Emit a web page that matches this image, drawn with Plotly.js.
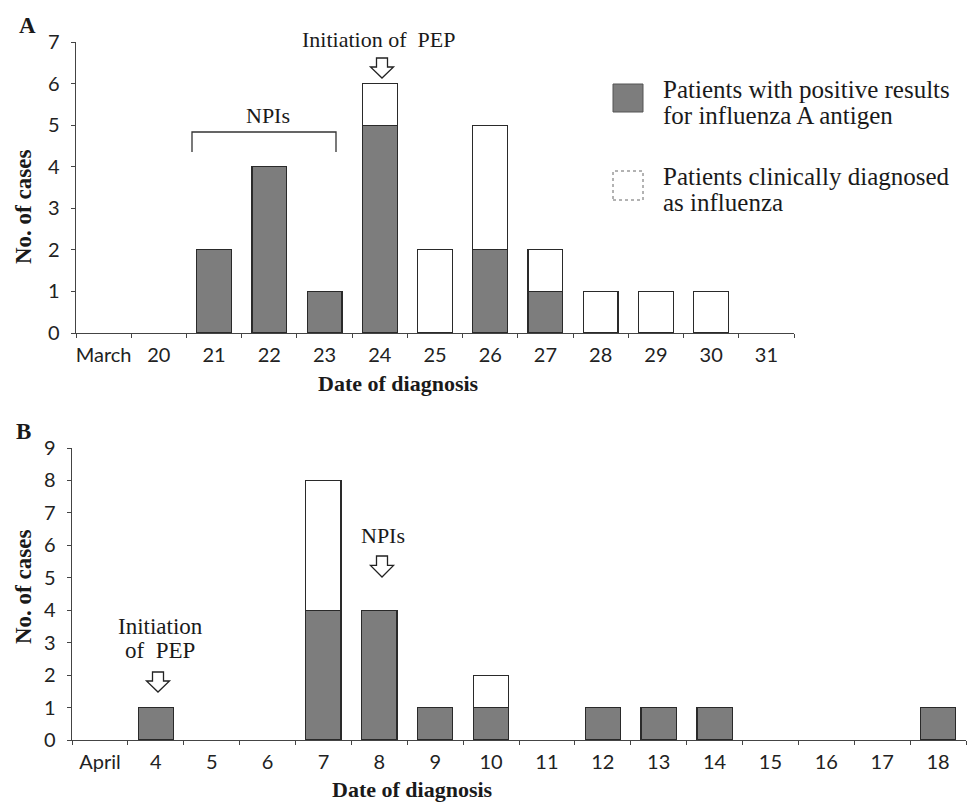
<!DOCTYPE html>
<html>
<head>
<meta charset="utf-8">
<script src="https://cdn.plot.ly/plotly-3.0.1.min.js"></script>
<style>html,body{margin:0;padding:0;background:#fff;}#chart{width:967px;height:802px;}</style>
</head>
<body>
<div id="chart"></div>
<script>
// Panel A data (March)
const datesA = ["March", "20", "21", "22", "23", "24", "25", "26", "27", "28", "29", "30", "31"];
const positiveA = [0, 0, 2, 4, 1, 5, 0, 2, 1, 0, 0, 0, 0];
const clinicalA = [0, 0, 0, 0, 0, 1, 2, 3, 1, 1, 1, 1, 0];
const yTicksA = [0, 1, 2, 3, 4, 5, 6, 7];

// Panel B data (April)
const datesB = ["April", "4", "5", "6", "7", "8", "9", "10", "11", "12", "13", "14", "15", "16", "17", "18"];
const positiveB = [0, 1, 0, 0, 4, 4, 1, 1, 0, 1, 1, 1, 0, 0, 0, 1];
const clinicalB = [0, 0, 0, 0, 4, 0, 0, 1, 0, 0, 0, 0, 0, 0, 0, 0];
const yTicksB = [0, 1, 2, 3, 4, 5, 6, 7, 8, 9];

const legendLabels = [["Patients with positive results", "for influenza A antigen"],
                      ["Patients clinically diagnosed", "as influenza"]];

const W = 967, H = 802;
const px = x => x / W;
const py = y => 1 - y / H;

const DARK = "#7d7d7d";
const EDGE = "#2a2a2a";
const serif = "Liberation Serif, Times New Roman, serif";
const sans = "Lato, Open Sans, sans-serif";

function bar(x, y, color, xa, ya, name) {
  return {
    type: "bar", x: x, y: y.map(v => v === 0 ? null : v), xaxis: xa, yaxis: ya, name: name,
    marker: {color: color, line: {color: EDGE, width: 1.2}},
    showlegend: false, hoverinfo: "x+y"
  };
}

const data = [
  bar(datesA, positiveA, DARK, "x", "y", "positive"),
  bar(datesA, clinicalA, "#ffffff", "x", "y", "clinical"),
  bar(datesB, positiveB, DARK, "x2", "y2", "positive"),
  bar(datesB, clinicalB, "#ffffff", "x2", "y2", "clinical")
];

const xCommon = {
  type: "category", showline: true, linecolor: "#444", linewidth: 1.3,
  ticks: "outside", tickson: "boundaries", ticklen: 4, tickcolor: "#444",
  showgrid: false, zeroline: false, tickangle: 0, ticklabelstandoff: 4,
  tickfont: {family: sans, size: 20, color: "#222"}
};
const yCommon = {
  showline: true, linecolor: "#444", linewidth: 1.3,
  ticks: "outside", ticklen: 4, tickcolor: "#444",
  showgrid: false, zeroline: false, dtick: 1, ticklabelstandoff: 7,
  tickfont: {family: sans, size: 20, color: "#222"}
};

function downArrow(cx, top, tip) {
  const sw = 5.5, hw = 11.5, hs = top + (tip - top) * 0.45;
  const pts = [[cx - sw, top], [cx + sw, top], [cx + sw, hs], [cx + hw, hs], [cx, tip],
               [cx - hw, hs], [cx - sw, hs]];
  return {
    type: "path", xref: "paper", yref: "paper",
    path: "M" + pts.map(p => px(p[0]) + "," + py(p[1])).join(" L") + " Z",
    line: {color: "#222", width: 1.3}, fillcolor: "#fff"
  };
}

const shapes = [
  // Legend swatches
  {type: "rect", xref: "paper", yref: "paper", x0: px(613), x1: px(643), y0: py(112), y1: py(84),
   fillcolor: DARK, line: {color: "#555", width: 1}},
  {type: "rect", xref: "paper", yref: "paper", x0: px(613), x1: px(643), y0: py(200), y1: py(171),
   fillcolor: "#fff", line: {color: "#666", width: 1, dash: "dot"}},
  // NPIs bracket (panel A)
  {type: "path", xref: "paper", yref: "paper",
   path: "M" + px(192) + "," + py(152) + " L" + px(192) + "," + py(132) + " L" + px(336) + "," + py(132) + " L" + px(336) + "," + py(152),
   line: {color: "#333", width: 1.3}},
  downArrow(382, 58, 78),
  downArrow(158, 672, 692),
  downArrow(382, 556, 577)
];

const ann = (text, x, y, opts) => Object.assign({
  text: text, xref: "paper", yref: "paper", x: px(x), y: py(y),
  showarrow: false, xanchor: "center", yanchor: "middle",
  font: {family: serif, size: 22, color: "#1a1a1a"}
}, opts || {});

const legFont = {family: serif, size: 25, color: "#1a1a1a"};
const titleFont = {family: serif, size: 22, color: "#1a1a1a"};

const annotations = [
  ann("<b>A</b>", 27, 25, {font: {family: serif, size: 23, color: "#1a1a1a"}}),
  ann("<b>B</b>", 23, 431, {font: {family: serif, size: 23, color: "#1a1a1a"}}),
  ann("Initiation of  PEP", 378, 39),
  ann("NPIs", 268, 115),
  ann("NPIs", 383, 535),
  ann("Initiation", 160, 626, {font: {family: serif, size: 23, color: "#1a1a1a"}}),
  ann("of  PEP", 160, 650, {font: {family: serif, size: 23, color: "#1a1a1a"}}),
  ann("<b>Date of diagnosis</b>", 398, 384, {font: titleFont}),
  ann("<b>Date of diagnosis</b>", 412, 789, {font: titleFont}),
  ann("<b>No. of cases</b>", 23, 207, {textangle: -90, font: {family: serif, size: 23, color: "#1a1a1a"}}),
  ann("<b>No. of cases</b>", 23, 587, {textangle: -90, font: {family: serif, size: 23, color: "#1a1a1a"}}),
  ann(legendLabels[0][0], 661, 89, {xanchor: "left", font: legFont}),
  ann(legendLabels[0][1], 661, 115, {xanchor: "left", font: legFont}),
  ann(legendLabels[1][0], 661, 176, {xanchor: "left", font: legFont}),
  ann(legendLabels[1][1], 661, 203, {xanchor: "left", font: legFont})
];

const layout = {
  width: W, height: H,
  margin: {l: 0, r: 0, t: 0, b: 0},
  paper_bgcolor: "#fff", plot_bgcolor: "#fff",
  barmode: "stack", bargap: 0.37,
  showlegend: false,
  xaxis: Object.assign({}, xCommon, {domain: [px(76), px(794)], anchor: "y"}),
  yaxis: Object.assign({}, yCommon, {domain: [py(333), py(42)], range: [0, 7], tickvals: yTicksA, anchor: "x"}),
  xaxis2: Object.assign({}, xCommon, {domain: [px(72), px(966)], anchor: "y2"}),
  yaxis2: Object.assign({}, yCommon, {domain: [py(740), py(448)], range: [0, 9], tickvals: yTicksB, anchor: "x2"}),
  shapes: shapes,
  annotations: annotations
};

Plotly.newPlot("chart", data, layout, {displayModeBar: false, staticPlot: true});
</script>
</body>
</html>
